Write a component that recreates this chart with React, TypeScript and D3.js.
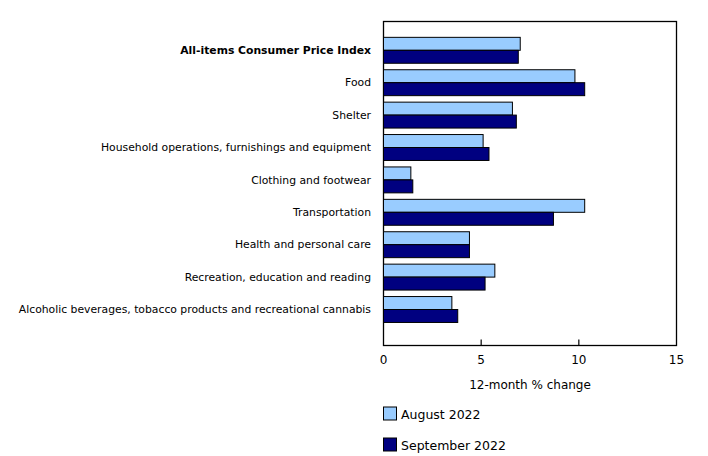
import { useRef, useEffect } from 'react';
import * as d3 from 'd3';

const categories = [
    'All-items Consumer Price Index',
    'Food',
    'Shelter',
    'Household operations, furnishings and equipment',
    'Clothing and footwear',
    'Transportation',
    'Health and personal care',
    'Recreation, education and reading',
    'Alcoholic beverages, tobacco products and recreational cannabis',
];
const august2022 = [7.0, 9.8, 6.6, 5.1, 1.4, 10.3, 4.4, 5.7, 3.5];
const september2022 = [6.9, 10.3, 6.8, 5.4, 1.5, 8.7, 4.4, 5.2, 3.8];
const xTicks = [0, 5, 10, 15];
const seriesNames = ['August 2022', 'September 2022'];
const seriesColors = ['#99ccff', '#000080'];

export default function App() {
    const svgRef = useRef<SVGSVGElement>(null);

    useEffect(() => {
        if (!svgRef.current) return;
        const width = 708;
        const height = 456;
        const font = '"DejaVu Sans", Verdana, sans-serif';
        const plot = { left: 383.5, right: 676.5, top: 21.5, bottom: 345.5 };

        d3.select(svgRef.current).selectAll('*').remove();
        const svg = d3.select(svgRef.current)
            .attr('width', width)
            .attr('height', height);

        const x = d3.scaleLinear().domain([0, 15]).range([plot.left, plot.right]);

        // categories sit in bands of ~32.4px, with a little more room at the bottom
        const y = d3.scaleBand<string>()
            .domain(categories)
            .range([34.1, 325.7])
            .paddingInner(0)
            .paddingOuter(0);
        const barH = y.bandwidth() * 0.4;
        const barOffset = y.bandwidth() * 0.1;

        // Frame
        svg.append('rect')
            .attr('x', plot.left)
            .attr('y', plot.top)
            .attr('width', plot.right - plot.left)
            .attr('height', plot.bottom - plot.top)
            .attr('fill', 'none')
            .attr('stroke', '#000')
            .attr('stroke-width', 1.3);

        // Bars
        const series = [august2022, september2022];
        series.forEach((vals, si) => {
            svg.append('g')
                .selectAll('rect')
                .data(categories)
                .enter()
                .append('rect')
                .attr('x', x(0))
                .attr('y', (d) => (y(d) as number) + barOffset + si * barH)
                .attr('width', (d, i) => x(vals[i]) - x(0))
                .attr('height', barH)
                .attr('fill', seriesColors[si])
                .attr('stroke', '#000')
                .attr('stroke-width', 1);
        });

        // X axis ticks (inward) and labels
        const xAxis = svg.append('g');
        xAxis.selectAll('line')
            .data(xTicks.slice(1, -1))
            .enter()
            .append('line')
            .attr('x1', (d) => x(d))
            .attr('x2', (d) => x(d))
            .attr('y1', plot.bottom)
            .attr('y2', plot.bottom - 6)
            .attr('stroke', '#000')
            .attr('stroke-width', 1.2);
        xAxis.selectAll('text')
            .data(xTicks)
            .enter()
            .append('text')
            .attr('x', (d) => x(d))
            .attr('y', 364)
            .attr('text-anchor', 'middle')
            .style('font-family', font)
            .style('font-size', '12px')
            .attr('fill', '#000')
            .text((d) => d);

        svg.append('text')
            .attr('x', (plot.left + plot.right) / 2)
            .attr('y', 389)
            .attr('text-anchor', 'middle')
            .style('font-family', font)
            .style('font-size', '12px')
            .attr('fill', '#000')
            .text('12-month % change');

        // Category labels
        svg.append('g')
            .selectAll('text')
            .data(categories)
            .enter()
            .append('text')
            .attr('x', 371)
            .attr('y', (d) => (y(d) as number) + y.bandwidth() / 2)
            .attr('dy', '0.35em')
            .attr('text-anchor', 'end')
            .style('font-family', font)
            .style('font-size', '10.8px')
            .style('font-weight', (d, i) => (i === 0 ? 'bold' : 'normal'))
            .attr('fill', '#000')
            .text((d) => d);

        // Legend
        const legend = svg.append('g');
        seriesNames.forEach((name, i) => {
            const ly = 407 + i * 31;
            legend.append('rect')
                .attr('x', 383.5)
                .attr('y', ly)
                .attr('width', 13)
                .attr('height', 13)
                .attr('fill', seriesColors[i])
                .attr('stroke', '#000')
                .attr('stroke-width', 1);
            legend.append('text')
                .attr('x', 401)
                .attr('y', ly + 12)
                .style('font-family', font)
                .style('font-size', '12.5px')
                .attr('fill', '#000')
                .text(name);
        });
    }, []);

    return (
        <div style={{ position: 'absolute', left: 0, top: 0 }}>
            <svg ref={svgRef} style={{ display: 'block' }}></svg>
        </div>
    );
}
